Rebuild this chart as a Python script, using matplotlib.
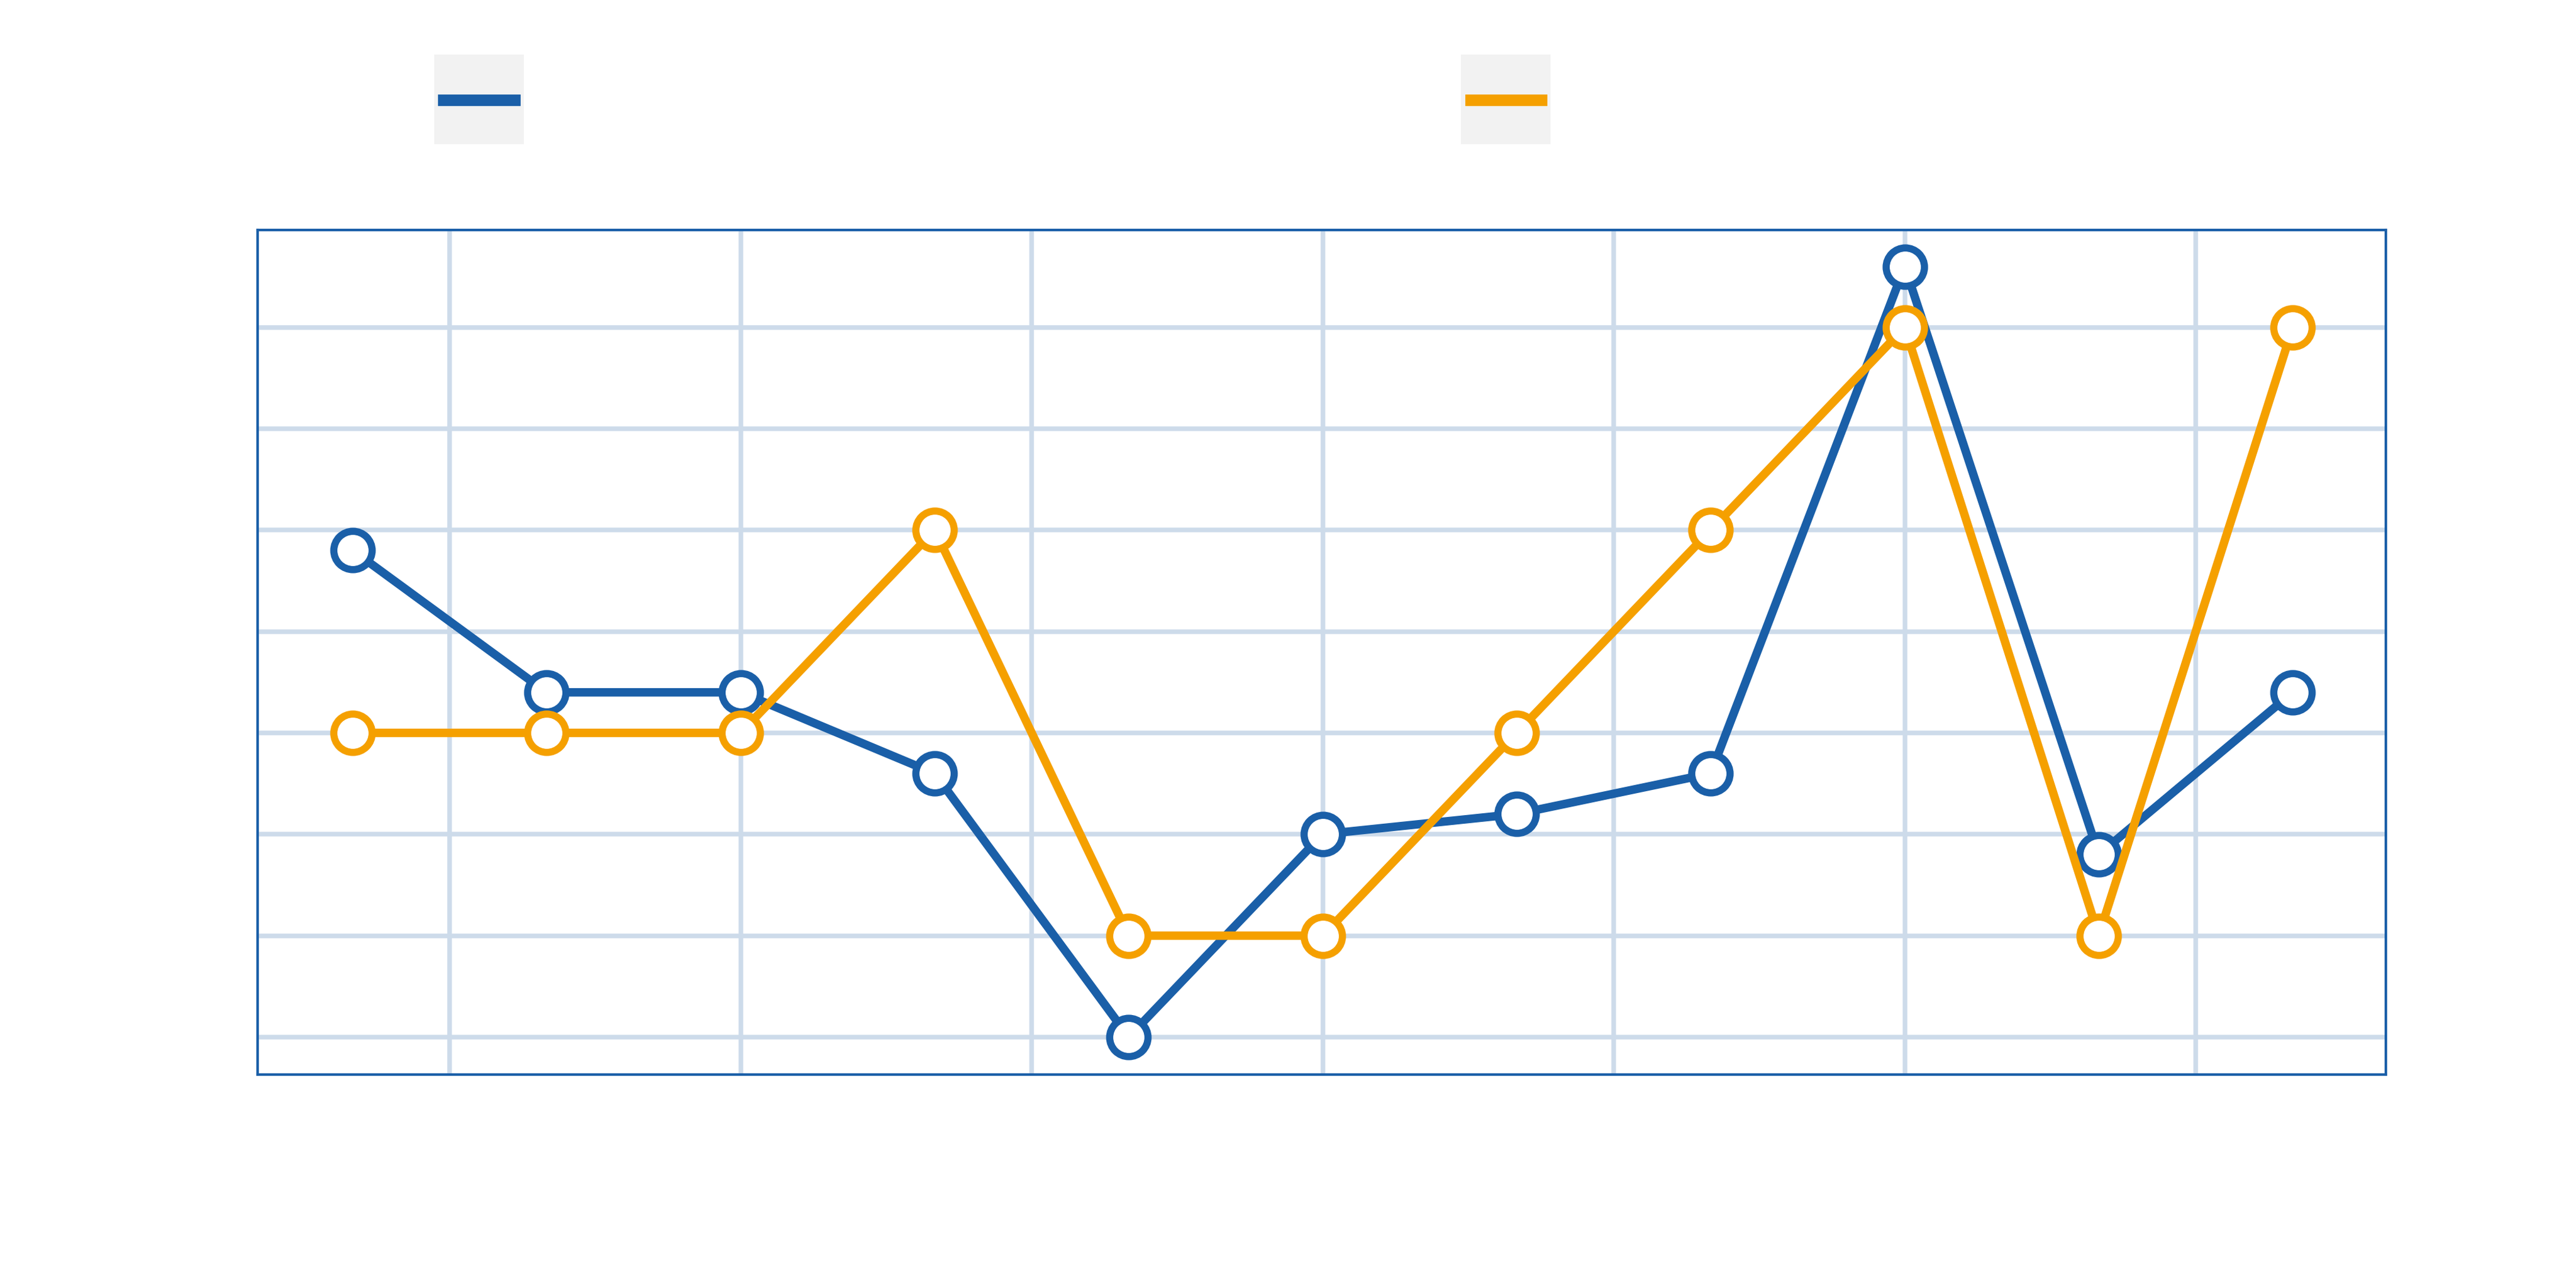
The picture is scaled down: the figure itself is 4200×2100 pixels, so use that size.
import matplotlib
matplotlib.use("Agg")
import matplotlib.pyplot as plt
import numpy as np
from matplotlib.patches import Rectangle
from matplotlib.lines import Line2D

x_idx = np.arange(11)
blue_values = [4.8, 3.4, 3.4, 2.6, 0.0, 2.0, 2.2, 2.6, 7.6, 1.8, 3.4]
orange_values = [3, 3, 3, 5, 1, 1, 3, 5, 7, 1, 7]
x_grid = [0.5, 2, 3.5, 5, 6.5, 8, 9.5]
y_grid = [0, 1, 2, 3, 4, 5, 6, 7]

BLUE = "#1a5fa8"
ORANGE = "#f5a000"
GRID = "#cddbea"

fig = plt.figure(figsize=(14, 7), dpi=300)
ax = fig.add_axes([420 / 4200, 1 - 1752 / 2100, (3890 - 420) / 4200, (1752 - 375) / 2100])
ax.set_xlim(-0.49, 10.48)
ax.set_ylim(-0.37, 7.96)

for gx in x_grid:
    ax.axvline(gx, color=GRID, lw=1.8, zorder=0)
for gy in y_grid:
    ax.axhline(gy, color=GRID, lw=1.8, zorder=0)

for vals, col in [(blue_values, BLUE), (orange_values, ORANGE)]:
    ax.plot(x_idx, vals, color=col, lw=3.3, marker="o", ms=15,
            mfc="white", mec=col, mew=2.8, zorder=3, clip_on=False)

ax.set_xticks([])
ax.set_yticks([])
for s in ax.spines.values():
    s.set_color(BLUE)
    s.set_linewidth(1.0)

# legend swatches
for x0, col in [(265, BLUE), (890, ORANGE)]:
    fx = x0 * 2.679 / 4200
    fig.patches.append(Rectangle((fx, 1 - 87 * 2.679 / 2100), 53 * 2.679 / 4200, 53 * 2.679 / 2100,
                                 transform=fig.transFigure, color="#f2f2f2", zorder=1))
    fig.lines.append(Line2D([(x0 + 5) * 2.679 / 4200, (x0 + 48) * 2.679 / 4200],
                            [1 - 61 * 2.679 / 2100] * 2, transform=fig.transFigure,
                            color=col, lw=4.5, zorder=2))

fig.savefig("out.png", dpi=300, facecolor="white")
